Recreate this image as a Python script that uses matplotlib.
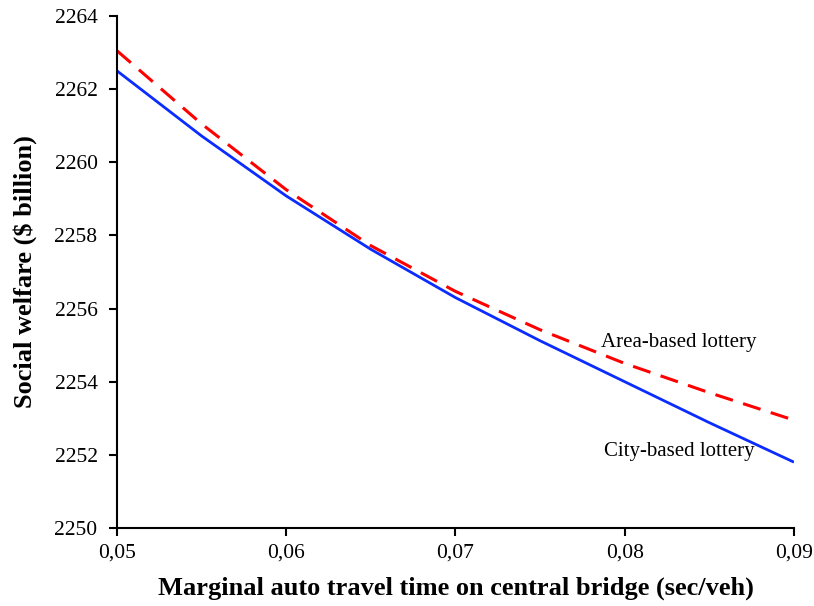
import numpy as np
from matplotlib import pyplot as plt

# Marginal auto travel time on central bridge (sec/veh)
x_vals = [0.05, 0.055, 0.06, 0.065, 0.07, 0.075, 0.08, 0.085, 0.09]
# Social welfare ($ billion)
city_based = [2262.5, 2260.72, 2259.08, 2257.62, 2256.3, 2255.12, 2254.0, 2252.88, 2251.8]
area_based = [2263.05, 2261.05, 2259.25, 2257.72, 2256.47, 2255.42, 2254.5, 2253.7, 2252.95]
x_ticks = [0.05, 0.06, 0.07, 0.08, 0.09]
y_ticks = [2250, 2252, 2254, 2256, 2258, 2260, 2262, 2264]


def main():
    plt.rcParams['font.family'] = ['Liberation Serif', 'DejaVu Serif']
    fig = plt.figure(figsize=(8.14, 6.06), dpi=100)
    ax = fig.add_axes([0.1437, 0.1287, 0.8317, 0.8449])

    ax.plot(x_vals, city_based, color='#0a2cff', lw=2, solid_capstyle='butt')
    ax.plot(x_vals, area_based, color='#ff0000', lw=2.2, dashes=(6, 3.5))

    ax.text(0.0832, 2255.07, 'Area-based lottery', fontsize=15, ha='center', va='center')
    ax.text(0.0832, 2252.1, 'City-based lottery', fontsize=15, ha='center', va='center')

    ax.set_xlim(0.05, 0.09)
    ax.set_ylim(2250, 2264)
    ax.set_xticks(x_ticks)
    ax.set_xticklabels([('%.2f' % v).replace('.', ',') for v in x_ticks])
    ax.set_yticks(y_ticks)
    ax.tick_params(labelsize=15.5, width=1.5, length=6, direction='out')
    ax.tick_params(axis='x', pad=5)
    ax.tick_params(axis='y', pad=8)

    for s in ['top', 'right']:
        ax.spines[s].set_visible(False)
    for s in ['left', 'bottom']:
        ax.spines[s].set_linewidth(1.5)

    ax.set_xlabel('Marginal auto travel time on central bridge (sec/veh)',
                  fontsize=19, fontweight='bold')
    ax.set_ylabel('Social welfare ($ billion)', fontsize=19, fontweight='bold')
    ax.xaxis.set_label_coords(0.5, -0.094)
    ax.yaxis.set_label_coords(-0.118, 0.5)

    fig.savefig('out.png', dpi=100)


if __name__ == "__main__":
    main()
